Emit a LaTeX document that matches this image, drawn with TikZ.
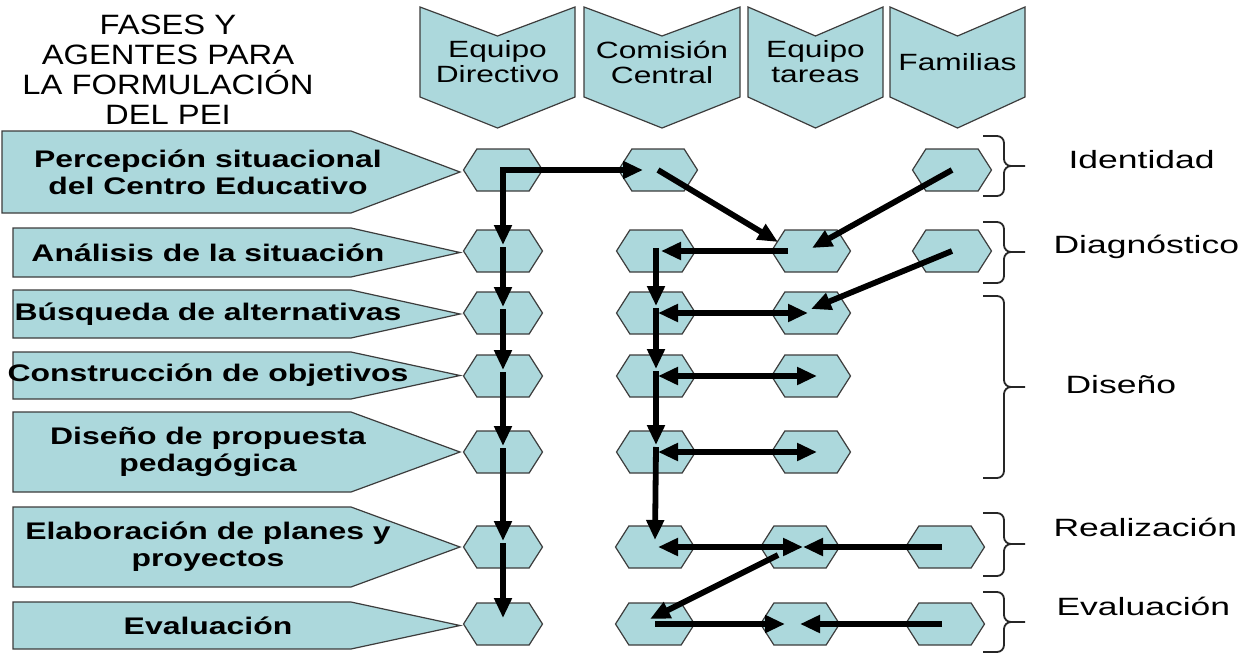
\documentclass[tikz,border=0pt]{standalone}
\usepackage{fontspec}
\setmainfont{Liberation Sans}
\newfontfamily\titlefont[FakeStretch=1.17]{Liberation Sans}
\newfontfamily\agentfont[FakeStretch=1.35]{Liberation Sans}
\newfontfamily\phasefont[FakeStretch=1.33]{Liberation Sans}
\newfontfamily\stagefont[FakeStretch=1.42]{Liberation Sans}
\usepackage{xcolor}
\usetikzlibrary{arrows.meta,positioning,shapes.symbols}
\definecolor{celeste}{RGB}{172,216,220}
\definecolor{borde}{RGB}{60,60,60}
\tikzset{
  panel/.style={draw=borde,line width=1.2pt,fill=celeste},
  cell/.style={signal,signal to=east and west,signal pointer angle=115,
    draw=borde,line width=1.2pt,fill=celeste,
    minimum width=79pt,minimum height=42pt,inner sep=0pt},
  agent/.style={align=center,font=\agentfont\fontsize{23.5}{25}\selectfont},
  phase/.style={align=center,font=\phasefont\bfseries\fontsize{24}{27}\selectfont},
  stagelabel/.style={anchor=base west,font=\stagefont\fontsize{25}{28}\selectfont},
  flow/.style={line width=5.8pt,-{Triangle[length=20pt,width=17pt]}},
  twoway/.style={line width=5.8pt,{Triangle[length=20pt,width=17pt]}-{Triangle[length=20pt,width=17pt]}},
  stage/.style={line width=1.8pt,draw=black!85,rounded corners=7pt}
}
\begin{document}
\begin{tikzpicture}[x=1pt,y=-1pt]
  \useasboundingbox (0,0) rectangle (1247,653);
  \fill[white] (0,0) rectangle (1247,653);

  \node[align=center,font=\titlefont\fontsize{28}{30}\selectfont] (titulo) at (168,70)
    {FASES Y\\AGENTES PARA\\LA FORMULACIÓN\\DEL PEI};

  % agentes
  \foreach \n/\xl/\xr/\txt in {1/420/575/{Equipo\\Directivo}, 2/584/740/{Comisión\\Central},
      3/748/883/{Equipo\\tareas}, 4/890/1025/Familias} {
    \filldraw[panel] (\xl,7) -- ({(\xl+\xr)/2},36) -- (\xr,7) -- (\xr,97)
      -- ({(\xl+\xr)/2},128) -- (\xl,97) -- cycle;
    \node[agent] (ag\n) at ({(\xl+\xr)/2},62) {\txt};
  }

  % fases
  \foreach \i/\t/\b/\l/\txt in {1/131/213/2/{Percepción situacional\\del Centro Educativo},
      2/228/277/13/{Análisis de la situación}, 3/290/338/13/{Búsqueda de alternativas},
      4/352/399/13/{Construcción de objetivos}, 5/412/492/13/{Diseño de propuesta\\pedagógica},
      6/507/587/13/{Elaboración de planes y\\proyectos}, 7/602/649/13/{Evaluación}} {
    \filldraw[panel] (\l,\t) -- (351,\t) -- (460,{(\t+\b)/2}) -- (351,\b) -- (\l,\b) -- cycle;
    \node[phase] (ph\i) at (208,{(\t+\b)/2}) {\txt};
  }

  % hexagonos
  \foreach \r/\c/\x/\y in {1/1/503/170, 1/2/658/170, 1/4/952/170,
      2/1/503/251, 2/2/656/251, 2/3/811/251, 2/4/952/251,
      3/1/503/313, 3/2/656/313, 3/3/811/313,
      4/1/503/376, 4/2/656/376, 4/3/811/376,
      5/1/503/452, 5/2/656/452, 5/3/811/452,
      6/1/503/547, 6/2/655/547, 6/3/800/547, 6/4/945/547,
      7/1/503/624, 7/2/655/624, 7/3/800/624, 7/4/945/624}
    \node[cell] (h\r\c) at (\x,\y) {};

  % flechas
  \draw[flow] (h11.center) -- ([yshift=6pt]h21.center);
  \foreach \a/\b in {2/3,3/4,4/5,5/6,6/7}
    \draw[flow] ([yshift=4pt]h\a1.center) -- ([yshift=6pt]h\b1.center);
  \draw[flow] ([xshift=-2.9pt]h11.center) -- ([xshift=-15pt]h12.center);
  \draw[flow] (h12.center) -- ([xshift=-33pt,yshift=9pt]h23.center);
  \draw[flow] (h14.center) -- ([xshift=1pt,yshift=3pt]h23.center);
  \draw[flow] ([xshift=-23pt]h23.center) -- ([xshift=5pt]h22.center);
  \draw[flow] ([yshift=2.9pt]h22.center) -- ([yshift=7pt]h32.center);
  \foreach \a/\b in {3/4,4/5,5/6}
    \draw[flow] ([yshift=5pt]h\a2.center) -- ([yshift=7pt]h\b2.center);
  \draw[flow] (h24.center) -- ([yshift=4pt]h33.center);
  \foreach \r/\s in {3/-3,4/6,5/6}
    \draw[twoway] ([xshift=2pt]h\r2.center) -- ([xshift=\s pt]h\r3.center);
  \draw[twoway] ([xshift=3pt]h62.center) -- ([xshift=3pt]h63.center);
  \draw[flow] ([xshift=-3pt]h64.center) -- ([xshift=3pt]h63.center);
  \draw[flow] ([xshift=-22pt,yshift=-8pt]h63.center) -- ([xshift=-5pt,yshift=5pt]h72.center);
  \draw[flow] (h72.center) -- ([xshift=-15pt]h73.center);
  \draw[flow] ([xshift=-3pt]h74.center) -- (h73.center);

  % llaves
  \foreach \t/\m/\b in {136/166/196, 222/252/283, 296/387/478, 513/544/576, 592/622/652}
    \draw[stage] (983,\t) -- (1004,\t) -- (1004,\m) -- (1025,\m)
      (983,\b) -- (1004,\b) -- (1004,\m) -- (1025,\m);

  \node[stagelabel] (st1) at (1065,168) {Identidad};
  \node[stagelabel] (st2) at (1050,253) {Diagnóstico};
  \node[stagelabel] (st3) at (1062,393) {Diseño};
  \node[stagelabel] (st4) at (1050,536) {Realización};
  \node[stagelabel] (st5) at (1053,615) {Evaluación};
\end{tikzpicture}
\end{document}
